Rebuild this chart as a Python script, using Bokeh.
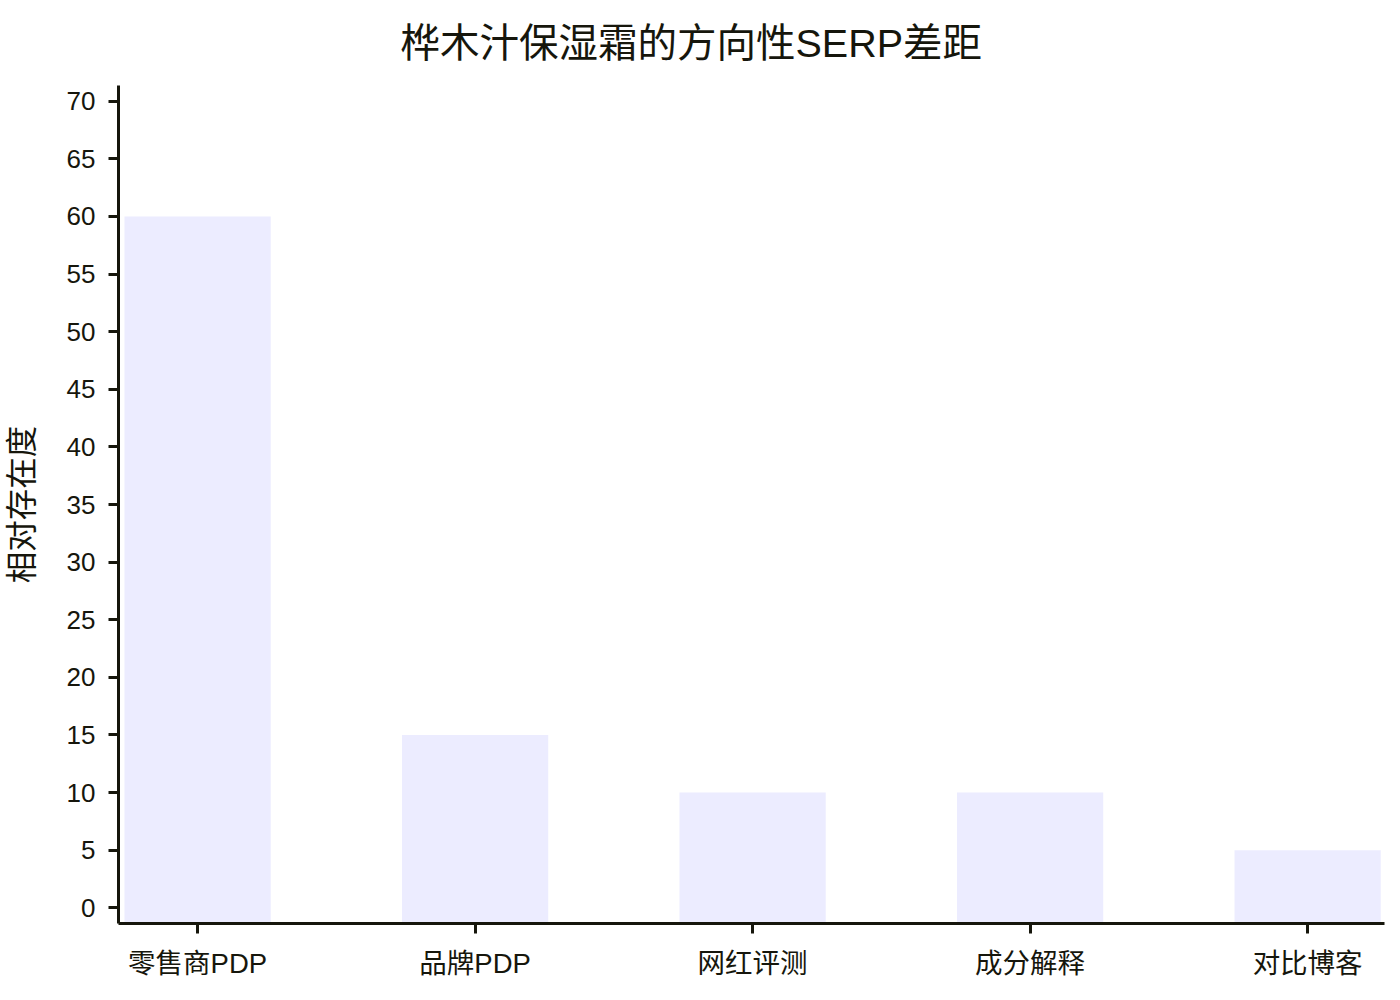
from bokeh.plotting import figure
from bokeh.models import Range1d, FixedTicker, ColumnDataSource
from bokeh.embed import file_html
from bokeh.resources import INLINE

# ---- data ----
categories = ["零售商PDP", "品牌PDP", "网红评测", "成分解释", "对比博客"]
values = [60, 15, 10, 10, 5]
y_ticks = [0, 5, 10, 15, 20, 25, 30, 35, 40, 45, 50, 55, 60, 65, 70]
title_text = "桦木汁保湿霜的方向性SERP差距"
y_label = "相对存在度"

# ---- layout / style ----
Y_MIN, Y_MAX = -1.36, 71.36
X_MIN, X_MAX = -0.285, 4.277
BAR_WIDTH = 0.527
FONT = "'Liberation Sans', 'Noto Sans CJK SC', sans-serif"
INK = "#16160c"
BAR = "#ECECFF"
W, H = 1400, 1000
FRAME_L, FRAME_R, FRAME_T, FRAME_B = 118, 1384, 85, 923

positions = list(range(len(categories)))
src = ColumnDataSource(dict(x=positions, top=values, cat=categories))

p = figure(
    width=W, height=H,
    x_range=Range1d(X_MIN, X_MAX), y_range=Range1d(Y_MIN, Y_MAX),
    output_backend="svg", toolbar_location=None,
    min_border_left=FRAME_L, min_border_right=W - FRAME_R,
    min_border_top=FRAME_T, min_border_bottom=H - FRAME_B,
)

p.vbar(x="x", top="top", bottom=Y_MIN, width=BAR_WIDTH, source=src,
       fill_color=BAR, line_color=None)

# title
p.title.text = title_text
p.title.align = "left"
p.title.offset = 282
p.title.vertical_align = "top"
p.title.standoff = 37
p.title.text_font = FONT
p.title.text_font_size = "39.5px"
p.title.text_font_style = "normal"
p.title.text_color = INK

# grid / outline
p.xgrid.visible = False
p.ygrid.visible = False
p.outline_line_color = None
p.background_fill_color = "white"
p.border_fill_color = "white"

# axes
for ax in (p.xaxis[0], p.yaxis[0]):
    ax.axis_line_color = INK
    ax.axis_line_width = 3
    ax.major_tick_line_color = INK
    ax.major_tick_line_width = 3
    ax.major_tick_out = 10
    ax.major_tick_in = 0
    ax.minor_tick_line_color = None
    ax.major_label_text_font = FONT
    ax.major_label_text_color = INK

p.xaxis.ticker = FixedTicker(ticks=positions)
p.xaxis.major_label_overrides = {i: c for i, c in zip(positions, categories)}
p.xaxis.major_label_text_font_size = "27.5px"
p.xaxis.major_label_standoff = 14

p.yaxis.ticker = FixedTicker(ticks=y_ticks)
p.yaxis.major_label_text_font_size = "26px"
p.yaxis.major_label_standoff = 13
p.yaxis.axis_label = y_label
p.yaxis.axis_label_text_font = FONT
p.yaxis.axis_label_text_font_size = "31.5px"
p.yaxis.axis_label_text_font_style = "normal"
p.yaxis.axis_label_text_color = INK
p.yaxis.axis_label_standoff = 24

open("out.html", "w").write(file_html(p, INLINE))
